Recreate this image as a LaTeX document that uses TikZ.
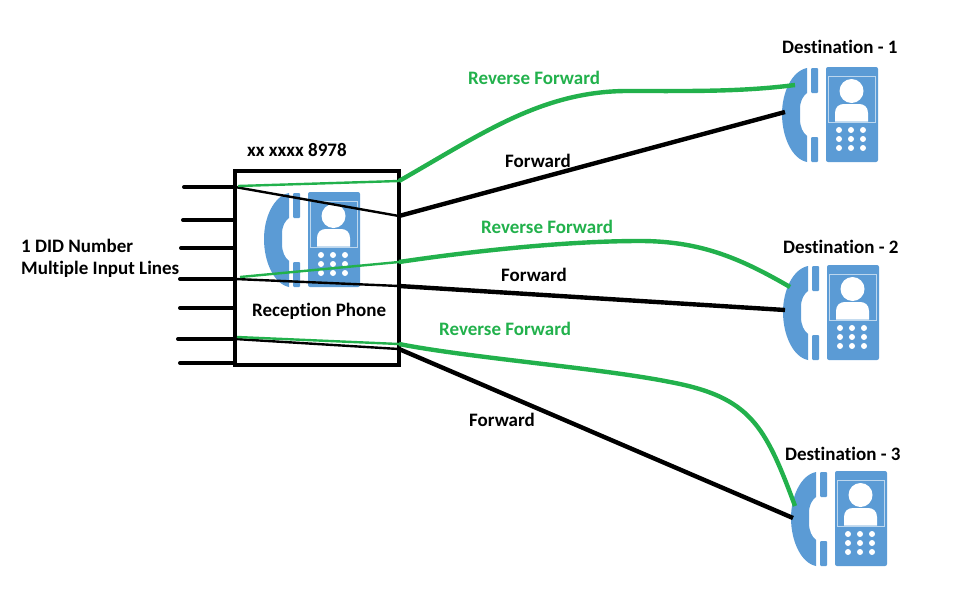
\documentclass[tikz,border=0pt]{standalone}
\usepackage{fontspec}
\setmainfont{Carlito}[Ligatures=CommonOff]
\usetikzlibrary{positioning}
\definecolor{phoneblue}{HTML}{5B9BD5}
\definecolor{phoneline}{HTML}{BDD7EE}
\definecolor{revgreen}{HTML}{22B14C}
\tikzset{
 pbox/.style={draw=black,line width=4.2pt,minimum width=164pt,minimum height=194pt,inner sep=0pt,outer sep=0pt},
 lbl/.style={font=\fontsize{19}{21}\selectfont\bfseries,inner sep=0pt,anchor=west},
 inputline/.style={draw=black,line width=4pt,line cap=round},
 thinblack/.style={draw=black,line width=2.4pt},
 thingreen/.style={draw=revgreen,line width=2.4pt},
 fwd/.style={draw=black,line width=4.4pt},
 rev/.style={draw=revgreen,line width=4.4pt},
 phone/.pic={
  \fill[phoneblue] (25,1) .. controls (10,4) and (0,25) .. (0,47) .. controls (0,70) and (10,92) .. (25,95)
    -- (25,69) .. controls (21,66) and (18,60) .. (18,52) -- (18,42) .. controls (18,34) and (21,29) .. (25,26) -- cycle;
  \fill[phoneblue,rounded corners=1pt] (29,1) rectangle (36,26);
  \fill[phoneblue,rounded corners=1pt] (29,70) rectangle (36,95);
  \fill[phoneblue,rounded corners=2pt] (44,0) rectangle (96,95);
  \draw[phoneline,line width=.8pt] (46.5,9) rectangle (93.5,55);
  \fill[white] (69.5,24) circle (12);
  \fill[white] (53,54.5) -- (53,46) .. controls (53,40) and (57,37) .. (62,37) -- (77,37) .. controls (82,37) and (86,40) .. (86,46) -- (86,54.5) -- cycle;
  \foreach \x in {57,69,81}
    \foreach \y in {63,72,81}
      \fill[white] (\x,\y) circle (3);
 }
}
\begin{document}
\begin{tikzpicture}[x=1pt,y=-1pt]
  \useasboundingbox (0,0) rectangle (957,597);
  \pic at (264,192) {phone};
  \pic at (782,67) {phone};
  \pic at (783,265) {phone};
  \pic at (791,471) {phone};

  \node[pbox] (reception) at (317,268) {};
  \node[lbl] (number) at (247,150) {xx xxxx 8978};
  \node[lbl] (recname) at (252,311) {Reception Phone};
  \node[lbl] (did) at (21,246) {1 DID Number};
  \node[lbl] (multi) at (21,269) {Multiple Input Lines};

  \node[lbl] (dest1) at (782,47) {Destination - 1};
  \node[lbl] (dest2) at (783,247) {Destination - 2};
  \node[lbl] (dest3) at (785,454) {Destination - 3};

  \node[lbl,text=revgreen] (rev1) at (468,78) {Reverse Forward};
  \node[lbl,text=revgreen] (rev2) at (481,227) {Reverse Forward};
  \node[lbl,text=revgreen] (rev3) at (439,329) {Reverse Forward};
  \node[lbl] (fwd1) at (505,161) {Forward};
  \node[lbl] (fwd2) at (501,275) {Forward};
  \node[lbl] (fwd3) at (469,420) {Forward};

  % input lines
  \foreach \n/\x/\y in {1/184/187,2/183/220,3/181/248,4/180/279,5/180/308,6/178/339,7/180/363} {
    \coordinate (in\n) at (\x,\y);
    \draw[inputline] (in\n) -- (in\n -| reception.west);
  }

  % points on the box
  \coordinate (ga) at (238,186);
  \coordinate (gb) at (399,181);
  \coordinate (ka) at (235,187);
  \coordinate (kb) at (399,216);
  \coordinate (gc) at (240,277);
  \coordinate (gd) at (399,262);
  \coordinate (kc) at (235,279);
  \coordinate (kd) at (399,286);
  \coordinate (ge) at (237,337);
  \coordinate (gf) at (399,344);
  \coordinate (ke) at (235,339);
  \coordinate (kf) at (399,349);

  % phone ends
  \coordinate (g1) at (795,85);
  \coordinate (k1) at (785,112);
  \coordinate (g2) at (790,287);
  \coordinate (k2) at (785,310);
  \coordinate (g3) at (795,506);
  \coordinate (k3) at (793,518);

  \draw[thinblack] (ka) -- (kb);
  \draw[thinblack] (kc) -- (kd);
  \draw[thinblack] (ke) -- (kf);
  \draw[thingreen] (ga) -- (gb);
  \draw[thingreen] (gc) -- (gd);
  \draw[thingreen] (ge) -- (gf);

  \draw[fwd] (kb) -- (k1);
  \draw[fwd] (kd) -- (k2);
  \draw[fwd] (kf) -- (k3);

  \draw[rev] (gb) .. controls (480,135) and (540,92) .. (625,91) .. controls (690,91) and (740,92) .. (g1);
  \draw[rev] (gd) .. controls (480,250) and (570,241) .. (640,241) .. controls (700,241) and (740,258) .. (g2);
  \draw[rev] (gf) .. controls (470,358) and (600,368) .. (670,382) .. controls (750,397) and (765,425) .. (g3);
\end{tikzpicture}
\end{document}
